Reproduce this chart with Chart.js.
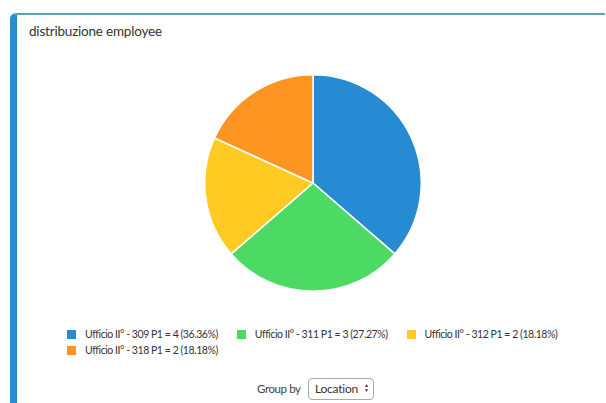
<!DOCTYPE html>
<html lang="it">
<head>
    <meta charset="UTF-8">
    <title>distribuzione employee</title>
    <script src="https://cdn.jsdelivr.net/npm/chart.js"></script>
    <style>
        body { margin: 0; background: #fff; font-family: Lato, "Open Sans", sans-serif; color: #333; }
        .card {
            position: absolute; left: 10px; top: 13px; width: 588px; height: 420px;
            border-left: 7px solid #2a8bcf; border-top: 2px solid #5c9fae;
            border-top-left-radius: 6px; background: #fff;
        }
        .title { position: absolute; left: 12px; top: 8px; font-size: 13.5px; letter-spacing: -0.2px; color: #333; }
        #pieChart { position: absolute; left: 186px; top: 58px; }
        #legend { position: absolute; left: 50px; top: 311px; width: 560px; white-space: nowrap; font-size: 10.5px; letter-spacing: -0.45px; line-height: 16px; }
        #legend .item { display: inline-block; margin-right: 19px; }
        #legend .box { display: inline-block; width: 9px; height: 9px; margin-right: 9px; vertical-align: -1px; }
        .groupby { position: absolute; left: 240px; top: 363px; font-size: 11.5px; letter-spacing: -0.4px; color: #444; }
        .select {
            display: inline-block; margin-left: 5px; padding: 2px 4px 2px 6px; border: 1px solid #aaa;
            border-radius: 4px; font-size: 12px; line-height: 16px; letter-spacing: -0.2px; color: #333;
        }
        .arrows { display: inline-block; font-size: 5px; line-height: 5px; vertical-align: 1px; margin-left: 3px; }
    </style>
</head>
<body>
<div class="card">
    <div class="title">distribuzione employee</div>
    <canvas id="pieChart" width="220" height="220"></canvas>
    <div id="legend"></div>
    <div class="groupby">Group by <span class="select">Location <span class="arrows">▲<br>▼</span></span></div>
</div>

<script>
    const offices = ['Ufficio II° - 309 P1', 'Ufficio II° - 311 P1', 'Ufficio II° - 312 P1', 'Ufficio II° - 318 P1'];
    const employees = [4, 3, 2, 2];
    const sliceColors = ['#268bd2', '#4cd964', '#ffca22', '#fe9421'];

    const total = employees.reduce((a, b) => a + b, 0);

    const ctx = document.getElementById('pieChart').getContext('2d');
    const pieChart = new Chart(ctx, {
        type: 'pie',
        data: {
            labels: offices,
            datasets: [{
                data: employees,
                backgroundColor: sliceColors,
                borderColor: '#fff',
                borderWidth: 1.5
            }]
        },
        options: {
            responsive: false,
            animation: false,
            layout: { padding: 1 },
            plugins: {
                legend: { display: false },
                tooltip: { enabled: false }
            }
        }
    });

    // legend built from the chart's own label items
    const legendEl = document.getElementById('legend');
    const items = pieChart.options.plugins.legend.labels.generateLabels(pieChart);
    items.forEach((item, i) => {
        const pct = (employees[i] / total * 100).toFixed(2);
        const div = document.createElement('span');
        div.className = 'item';
        div.innerHTML = `<span class="box" style="background:${item.fillStyle}"></span>${item.text} = ${employees[i]} (${pct}%)`;
        legendEl.appendChild(div);
        if (i === 2) legendEl.appendChild(document.createElement('br'));
    });
</script>
</body>
</html>
